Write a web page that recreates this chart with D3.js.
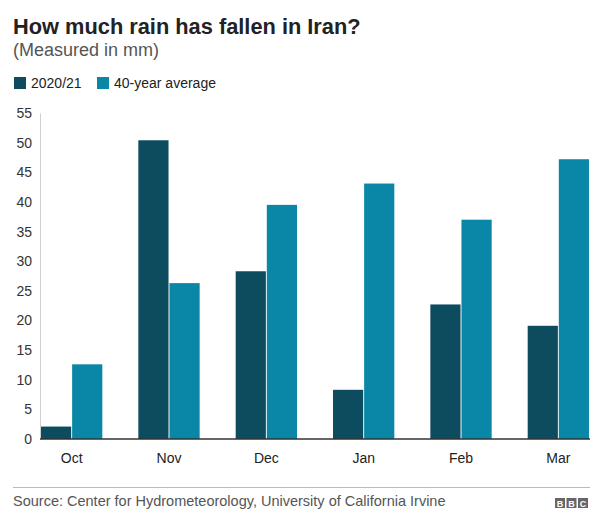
<!DOCTYPE html>
<html>
<head>
<meta charset="utf-8">
<script src="https://cdn.jsdelivr.net/npm/d3@7"></script>
<style>
  body { margin: 0; background: #fff; }
  svg { display: block; font-family: "Liberation Sans", Arial, Helvetica, sans-serif; }
</style>
</head>
<body>
<div id="chart"></div>
<script>
// Chart data
var months = ["Oct", "Nov", "Dec", "Jan", "Feb", "Mar"];
var seriesNames = ["2020/21", "40-year average"];
var rain2021 = [2.1, 50.4, 28.3, 8.3, 22.7, 19.1];
var avg40 = [12.6, 26.3, 39.5, 43.1, 37.0, 47.2];
var yTicks = [0, 5, 10, 15, 20, 25, 30, 35, 40, 45, 50, 55];

var w = 590;
var h = 510;
var colors = ["#0d4c5e", "#0a87a6"];

var svg = d3.select("#chart")
  .append("svg")
  .attr("width", w)
  .attr("height", h);

// Title + subtitle
svg.append("text")
  .attr("x", 13)
  .attr("y", 34)
  .style("font-size", "21.8px")
  .style("font-weight", "bold")
  .style("fill", "#222")
  .text("How much rain has fallen in Iran?");

svg.append("text")
  .attr("x", 13)
  .attr("y", 56)
  .style("font-size", "18px")
  .style("fill", "#555")
  .text("(Measured in mm)");

// Legend
var legendX = [14, 97];
seriesNames.forEach(function(name, i) {
  svg.append("rect")
    .attr("x", legendX[i])
    .attr("y", 77)
    .attr("width", 12)
    .attr("height", 12)
    .style("fill", colors[i]);
  svg.append("text")
    .attr("x", legendX[i] + 17)
    .attr("y", 88)
    .style("font-size", "14px")
    .style("fill", "#222")
    .text(name);
});

// Scales
var y = d3.scaleLinear()
  .domain([0, 55])
  .range([439, 113]);

var x0 = d3.scaleBand()
  .domain(months)
  .range([41, 589])
  .paddingInner(0.37)
  .paddingOuter(0);

var x1 = d3.scaleBand()
  .domain(seriesNames)
  .range([0, x0.bandwidth()])
  .paddingInner(0.03);

// y axis: light vertical line + labels, no ticks
var yAxis = svg.append("g")
  .attr("transform", "translate(40,0)")
  .call(d3.axisLeft(y).tickValues(yTicks).tickSize(0).tickPadding(8));
yAxis.select(".domain").attr("stroke", "#d0d0d0");
yAxis.selectAll("text")
  .style("font-size", "14px")
  .style("fill", "#333")
  .style("font-family", "inherit");

// bars
var rows = months.map(function(m, i) {
  return { month: m, values: [rain2021[i], avg40[i]] };
});

var groups = svg.selectAll("g.month")
  .data(rows)
  .enter()
  .append("g")
  .attr("class", "month")
  .attr("transform", function(d) { return "translate(" + x0(d.month) + ",0)"; });

groups.selectAll("rect")
  .data(function(d) {
    return d.values.map(function(v, i) { return { key: seriesNames[i], value: v, i: i }; });
  })
  .enter()
  .append("rect")
  .attr("x", function(d) { return x1(d.key); })
  .attr("y", function(d) { return y(d.value); })
  .attr("width", x1.bandwidth())
  .attr("height", function(d) { return y(0) - y(d.value); })
  .style("fill", function(d) { return colors[d.i]; });

// x axis
var xAxis = svg.append("g")
  .attr("transform", "translate(0," + y(0) + ")")
  .call(d3.axisBottom(x0).tickSize(0).tickPadding(14));
xAxis.select(".domain")
  .attr("d", "M40,0H590")
  .attr("stroke", "#333")
  .attr("stroke-width", 1.5);
xAxis.selectAll("text")
  .style("font-size", "14px")
  .style("fill", "#222")
  .style("font-family", "inherit");

// footer
svg.append("line")
  .attr("x1", 13)
  .attr("x2", 590)
  .attr("y1", 487.5)
  .attr("y2", 487.5)
  .style("stroke", "#bbb")
  .style("stroke-width", 1);

svg.append("text")
  .attr("x", 13)
  .attr("y", 506)
  .style("font-size", "14.5px")
  .style("fill", "#555")
  .text("Source: Center for Hydrometeorology, University of California Irvine");

// BBC blocks
var logo = svg.append("g").attr("transform", "translate(555,498)");
["B", "B", "C"].forEach(function(ch, i) {
  logo.append("rect")
    .attr("x", i * 11.5)
    .attr("y", 0)
    .attr("width", 10)
    .attr("height", 10)
    .style("fill", "#666");
  logo.append("text")
    .attr("x", i * 11.5 + 5)
    .attr("y", 8.5)
    .attr("text-anchor", "middle")
    .style("font-size", "9px")
    .style("font-weight", "bold")
    .style("fill", "#fff")
    .text(ch);
});
</script>
</body>
</html>
